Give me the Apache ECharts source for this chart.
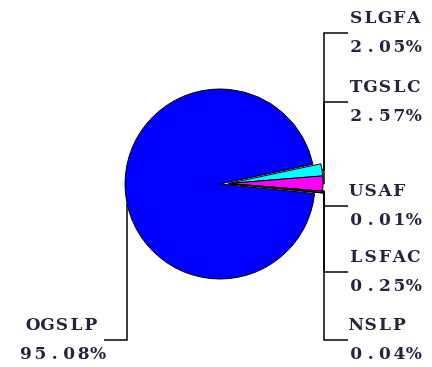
<!DOCTYPE html>
<html>
<head>
<meta charset="utf-8">
<script src="https://cdn.jsdelivr.net/npm/echarts@6/dist/echarts.min.js"></script>
<style>
  html, body { margin: 0; padding: 0; background: #ffffff; }
  #chart { width: 432px; height: 367px; }
</style>
</head>
<body>
<div id="chart"></div>
<script>
// Program shares (percent of total)
const categories = ['SLGFA', 'TGSLC', 'USAF', 'LSFAC', 'NSLP', 'OGSLP'];
const shares = [2.05, 2.57, 0.01, 0.25, 0.04, 95.08];
const sliceColors = ['#00ffff', '#ff00ff', '#00c000', '#a0a000', '#ff0000', '#0000ff'];
const pulledOut = [true, true, true, true, true, false];

// Geometry and leader bracket layout
const CX = 220, CY = 184, R = 95;
const START = 12;              // degrees, first slice edge
const PULL = 8;                // how far the small slices are pulled out
const bracketX = 324;          // shared vertical leader on the right
const rightTextX = 349;
const tickY = [33, 102, 206, 272, 340, 340];
const leftLeaderX = 127;
const leftTextX = 62;
const CELL = 14.4;             // fixed character pitch
const RIGHT_COLS = 5;          // right-hand labels are left-justified in 5 cells

const textColor = '#2a2040';

// Direction of the pulled-out group: middle of its angular span
const total = shares.reduce((a, b) => a + b, 0);
const pulledSum = shares.reduce((a, v, i) => a + (pulledOut[i] ? v : 0), 0);
const midDeg = START - (pulledSum / total) * 360 / 2;
const pullDx = PULL * Math.cos(midDeg * Math.PI / 180);
const pullDy = -PULL * Math.sin(midDeg * Math.PI / 180);

// Each character sits in its own fixed-width cell to get a wide monospaced look
function cells(str, cols) {
  let s = str;
  while (cols && s.length < cols) s += ' ';
  return s.split('').map(ch => '{c|' + ch + '}').join('');
}

const chart = echarts.init(document.getElementById('chart'), null, { renderer: 'canvas' });

chart.setOption({
  backgroundColor: '#ffffff',
  animation: false,
  series: [
    {
      // main pie: the large slice plus all labels
      type: 'pie',
      center: [CX, CY],
      radius: R,
      startAngle: START,
      clockwise: true,
      avoidLabelOverlap: false,
      emphasis: { disabled: true },
      label: {
        show: true,
        position: 'outside',
        formatter: function (p) {
          const cols = pulledOut[p.dataIndex] ? RIGHT_COLS : 0;
          return cells(p.name, cols) + '\n' + cells(p.value.toFixed(2) + '%', cols);
        },
        rich: {
          c: {
            width: CELL,
            align: 'center',
            fontFamily: 'DejaVu Serif',
            fontWeight: 'bold',
            fontSize: 17,
            lineHeight: 29,
            color: textColor
          }
        }
      },
      labelLine: {
        show: true,
        length: 10,
        length2: 10,
        lineStyle: { color: '#000000', width: 1.5 }
      },
      labelLayout: function (params) {
        const i = params.dataIndex;
        const ty = tickY[i];
        if (!pulledOut[i]) {
          const y0 = CY + Math.sqrt(R * R - (CX - leftLeaderX) * (CX - leftLeaderX));
          return {
            x: leftTextX,
            y: ty,
            align: 'center',
            verticalAlign: 'middle',
            labelLinePoints: [[leftLeaderX, y0], [leftLeaderX, ty], [leftTextX + 42, ty]]
          };
        }
        const p0 = params.labelLinePoints ? params.labelLinePoints[0] : [bracketX - 1, CY];
        return {
          x: rightTextX,
          y: ty,
          align: 'left',
          verticalAlign: 'middle',
          labelLinePoints: [[p0[0] + pullDx, p0[1] + pullDy], [bracketX, p0[1] + pullDy], [bracketX, ty], [rightTextX - 1, ty]]
        };
      },
      data: categories.map((name, i) => ({
        name: name,
        value: shares[i],
        itemStyle: pulledOut[i]
          ? { color: 'rgba(0,0,0,0)', borderWidth: 0 }
          : { color: sliceColors[i], borderColor: '#000000', borderWidth: 1 }
      }))
    },
    {
      // the small slices, pulled out from the centre
      type: 'pie',
      center: [CX + pullDx, CY + pullDy],
      radius: R,
      startAngle: START,
      clockwise: true,
      silent: true,
      emphasis: { disabled: true },
      label: { show: false },
      labelLine: { show: false },
      data: categories.map((name, i) => ({
        name: name,
        value: shares[i],
        itemStyle: pulledOut[i]
          ? { color: sliceColors[i], borderColor: '#000000', borderWidth: 1 }
          : { color: 'rgba(0,0,0,0)', borderWidth: 0 }
      }))
    }
  ]
});
</script>
</body>
</html>
